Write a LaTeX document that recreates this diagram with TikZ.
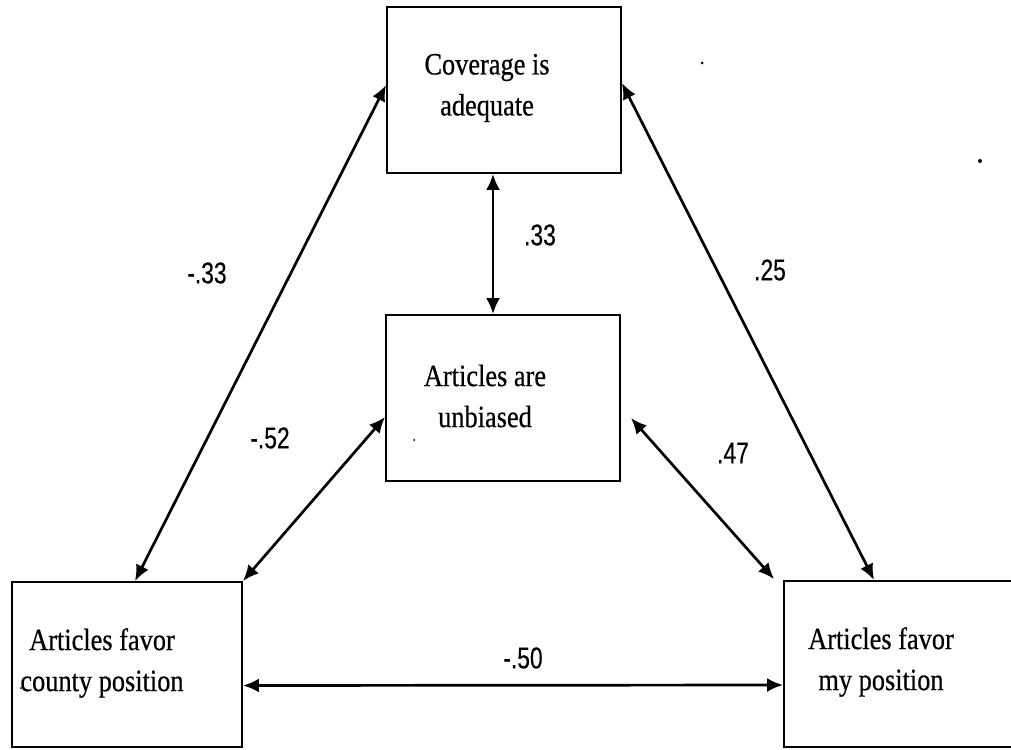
\documentclass[tikz,border=0pt]{standalone}
\usepackage{fontspec}
\setmainfont{Liberation Serif}[FakeStretch=0.85,FakeBold=0.5]
\newfontfamily\numfont{Liberation Sans}[FakeStretch=0.76,FakeBold=0.3]
\usetikzlibrary{arrows.meta,calc}

\tikzset{
  box/.style={draw, line width=1.9pt, inner sep=0pt,
              minimum width=234pt, minimum height=166pt},
  boxtext/.style={align=center, inner sep=0pt,
                  font=\fontsize{31}{41}\selectfont},
  coef/.style={inner sep=0pt, font=\numfont\fontsize{30}{32}\selectfont},
  link/.style={line width=2.7pt,
               {Latex[length=16pt,width=14pt]}-{Latex[length=16pt,width=14pt]}},
  speck/.style={fill=black}
}

\begin{document}
\begin{tikzpicture}[x=1pt,y=-1pt]
  \useasboundingbox (0,0) rectangle (1011,749);
  \clip (0,0) rectangle (1011,749);

  % boxes
  \node[box] (top) at (504,90) {};
  \node[box] (mid) at (503,398) {};
  \node[box, minimum width=230pt, minimum height=165pt] (bl) at (127,664.5) {};
  \node[box, minimum width=230pt, minimum height=166pt] (br) at (899,664) {};

  % box captions
  \node[boxtext] (topt) at (487,88) {Coverage is\\adequate};
  \node[boxtext] (midt) at (485,396) {Articles are\\unbiased};
  \node[boxtext] (blt) at (102,663) {Articles favor\\county position};
  \node[boxtext] (brt) at (881,662) {Articles favor\\my position};

  % correlations
  \draw[link] ([yshift=5pt]top.west) -- ([xshift=8pt]bl.north);
  \draw[link] ([yshift=7pt]top.east) -- ([xshift=91pt]br.north west);
  \draw[link] ([xshift=-11pt]top.south) -- ([xshift=-10pt]mid.north);
  \draw[link] ([yshift=-19pt]mid.west) -- (bl.north east);
  \draw[link] ([xshift=10pt,yshift=-20pt]mid.east) -- ([xshift=-9pt,yshift=1pt]br.north west);
  \draw[link] ([yshift=-21pt]bl.east) -- ([yshift=-21pt]br.west);

  % coefficients
  \node[coef] (c1) at (207,273) {-.33};
  \node[coef] (c2) at (540,235) {.33};
  \node[coef] (c3) at (770,270) {.25};
  \node[coef] (c4) at (270,438) {-.52};
  \node[coef] (c5) at (733,453) {.47};
  \node[coef] (c6) at (523,658) {-.50};

  % specks
  \fill[speck] (702,63) circle (1.5pt);
  \fill[speck] (980,161) circle (2pt);
  \fill[speck] (414,440) circle (1pt);
  \fill[speck] (21,688) circle (1pt);
\end{tikzpicture}
\end{document}
